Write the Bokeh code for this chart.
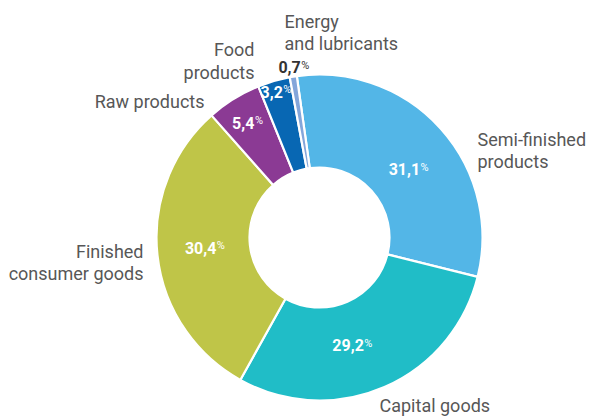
import math
from bokeh.plotting import figure
from bokeh.models import Range1d, ColumnDataSource
from bokeh.core.properties import value
from bokeh.embed import file_html
from bokeh.resources import INLINE

# ---- data ----
categories = ["Semi-finished products", "Capital goods", "Finished consumer goods",
              "Raw products", "Food products", "Energy and lubricants"]
shares = [31.1, 29.2, 30.4, 5.4, 3.2, 0.7]
share_labels = ["31,1", "29,2", "30,4", "5,4", "3,2", "0,7"]
label_lines = [["Semi-finished", "products"], ["Capital goods"], ["Finished", "consumer goods"],
               ["Raw products"], ["Food", "products"], ["Energy", "and lubricants"]]

# ---- styles / layout ----
colors = ["#53b6e7", "#20bdc7", "#bfc548", "#8b3a94", "#0867b3", "#84a6da"]
pct_colors = ["white", "white", "white", "white", "white", "#333333"]
W, H = 592, 418
CX, CY = 319, 237
R_OUT, R_IN = 163, 70
START_DEG = 98.0
pct_r = [113, 113, 114, 135, 152, 172]
pct_dtheta = [-5, -6, -1, 0, 0, -1]
# category label anchors: (x, first line visual centre y in px-from-top, align)
cat_anchor = [(477, 138.5, "left"), (379, 404.5, "left"), (143, 250.5, "right"),
              (204, 100.5, "right"), (254, 49, "right"), (284, 20.5, "left")]
LINE_H = 22.5
FONT = "Roboto"


def Y(py):
    return H - py


p = figure(width=W, height=H, output_backend="svg", toolbar_location=None,
           x_range=Range1d(0, W), y_range=Range1d(0, H), min_border=0)
p.axis.visible = False
p.grid.visible = False
p.outline_line_color = None
p.background_fill_color = "white"
p.border_fill_color = "white"

total = sum(shares)
starts, ends, mids = [], [], []
cum = 0.0
for s in shares:
    a0 = START_DEG - 360.0 * cum / total
    cum += s
    a1 = START_DEG - 360.0 * cum / total
    starts.append(math.radians(a0))
    ends.append(math.radians(a1))
    mids.append((a0 + a1) / 2.0)

src = ColumnDataSource(dict(x=[CX] * len(shares), y=[Y(CY)] * len(shares),
                            start=starts, end=ends, color=colors, cat=categories))
p.annular_wedge(x="x", y="y", inner_radius=R_IN, outer_radius=R_OUT,
                start_angle="start", end_angle="end", direction="clock",
                fill_color="color", line_color="white", line_width=2.2, source=src)

# percentage labels
DIG, COMMA, PCTW = 8.9, 3.6, 9.5
for lab, m, r, dt, col in zip(share_labels, mids, pct_r, pct_dtheta, pct_colors):
    ang = math.radians(m + dt)
    lx = CX + r * math.cos(ang)
    ly = CY - r * math.sin(ang)
    wn = sum(COMMA if ch == "," else DIG for ch in lab)
    join = lx + (wn - PCTW) / 2.0
    p.text(x=[join], y=[Y(ly)], text=[lab], text_align="right", text_baseline="middle",
           text_font=value(FONT), text_font_style="bold", text_font_size="16px", text_color=col)
    p.text(x=[join + 0.5], y=[Y(ly - 2.0)], text=["%"], text_align="left",
           text_baseline="middle", text_font=value(FONT), text_font_size="11px",
           text_color=col)

# category labels
for lines, (ax, ay, al) in zip(label_lines, cat_anchor):
    xs = [ax] * len(lines)
    ys = [Y(ay + i * LINE_H) for i in range(len(lines))]
    p.text(x=xs, y=ys, text=lines, text_align=al, text_baseline="middle",
           text_font=value(FONT), text_font_size="18px", text_color="#575757")

open("out.html", "w").write(file_html(p, INLINE))
